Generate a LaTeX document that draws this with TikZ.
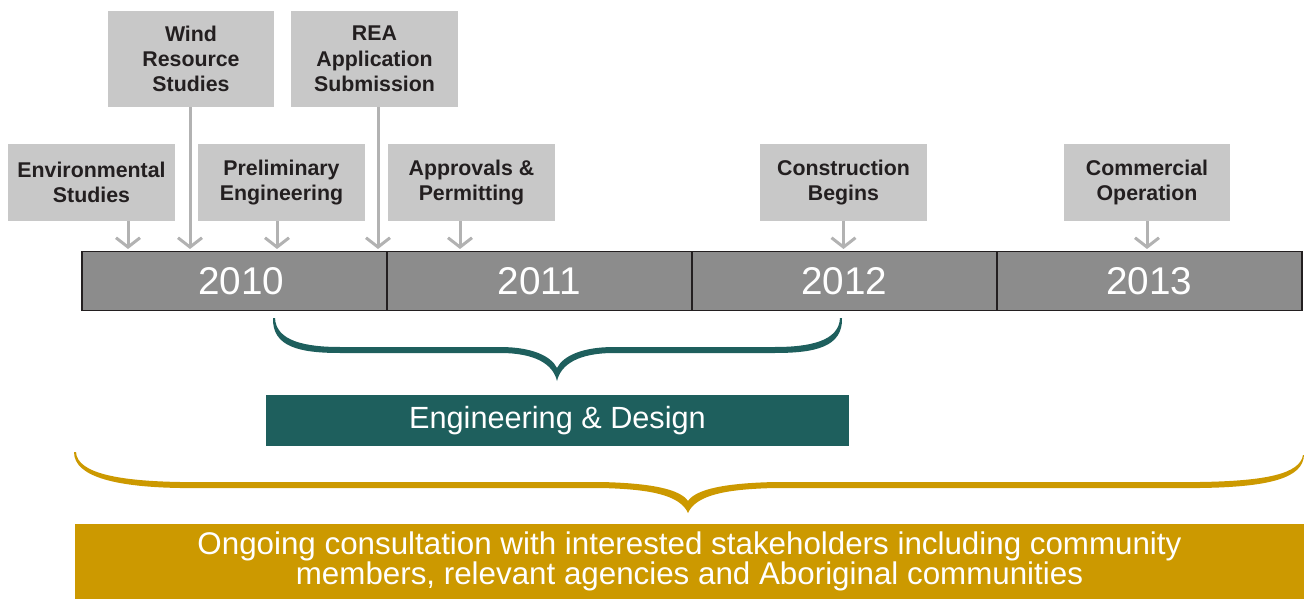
\documentclass[tikz,border=0pt]{standalone}
\usepackage{fontspec}
\setmainfont{Liberation Sans}
\usepackage{xcolor}
\usetikzlibrary{arrows.meta, positioning}
\definecolor{boxgray}{RGB}{200,200,200}
\definecolor{bargray}{RGB}{140,140,140}
\definecolor{arrowgray}{RGB}{178,178,178}
\definecolor{inkdark}{RGB}{35,31,32}
\definecolor{engteal}{RGB}{30,95,93}
\definecolor{consgold}{RGB}{204,153,0}
\tikzstyle{milestone} = [
    rectangle,
    fill=boxgray,
    minimum width=125pt,
    minimum height=58pt,
    inner sep=0pt,
    align=center,
    text=inkdark,
    font=\fontsize{16}{19}\selectfont\bfseries
]
\tikzstyle{tallstone} = [
    milestone,
    minimum height=72pt
]
\tikzstyle{year} = [
    rectangle,
    fill=bargray,
    draw=inkdark,
    line width=0.9pt,
    outer sep=0pt,
    minimum width=228.75pt,
    minimum height=44pt,
    text=white,
    font=\fontsize{29}{34}\selectfont
]
\tikzstyle{banner} = [
    rectangle,
    inner sep=0pt,
    align=center,
    text=white
]
\tikzstyle{feed} = [
    draw=arrowgray,
    line width=2.25pt,
    -{Straight Barb[length=7pt,width=18pt]},
    shorten >=2pt
]

\begin{document}
\begin{tikzpicture}[
    x=0.75pt,
    y=-0.75pt
]
\useasboundingbox (0,0) rectangle (1304,599);

\node (y2010) [year] at (234.5,281) {\hspace{10pt}2010};

\node (y2011) [year, right=0pt of y2010] {2011};

\node (y2012) [year, right=0pt of y2011] {2012};

\node (y2013) [year, right=0pt of y2012] {2013};

\node (env) [milestone] at (91.5,182.5)
{Environmental\\Studies};

\node (prelim) [milestone] at (281.5,182.5)
{Preliminary\\Engineering};

\node (approv) [milestone] at (471.5,182.5)
{Approvals \&\\Permitting};

\node (constr) [milestone] at (843.5,182.5)
{Construction\\Begins};

\node (commer) [milestone] at (1147,182.5)
{Commercial\\Operation};

\node (wind) [tallstone] at (191,59)
{Wind\\Resource\\Studies};

\node (rea) [tallstone] at (374.5,59)
{REA\\Application\\Submission};

\node (engbox) [banner, fill=engteal, minimum width=437pt, minimum height=38pt,
    font=\fontsize{23}{27}\selectfont] at (557.5,420.5)
{Engineering \& Design};

\node (consult) [banner, fill=consgold, minimum width=922pt, minimum height=56pt,
    font=\fontsize{23.5}{22}\selectfont] at (689.5,561.5)
{Ongoing consultation with interested stakeholders including community\\
members, relevant agencies and Aboriginal communities};

\draw [feed] (128,0 |- env.south) -- (128,0 |- y2010.north);

\draw [feed] (190,0 |- wind.south) -- (190,0 |- y2010.north);

\draw [feed] (277,0 |- prelim.south) -- (277,0 |- y2010.north);

\draw [feed] (378,0 |- rea.south) -- (378,0 |- y2010.north);

\draw [feed] (460,0 |- approv.south) -- (460,0 |- y2011.north);

\draw [feed] (constr.south) -- (constr.south |- y2012.north);

\draw [feed] (commer.south) -- (commer.south |- y2013.north);

% engineering brace
\fill [engteal]
(273,318) .. controls (272,347) and (300,353) .. (340,353)
-- (500,353) .. controls (535,353) and (553,364) .. (557,381)
.. controls (561,364) and (579,353) .. (614,353)
-- (775,353) .. controls (815,353) and (843,347) .. (842,318)
-- (840,318) .. controls (839,341) and (810,347) .. (775,347)
-- (614,347) .. controls (582,347) and (563,356) .. (557,368)
.. controls (551,356) and (532,347) .. (500,347)
-- (340,347) .. controls (305,347) and (276,341) .. (275,318)
-- cycle;

% consultation brace
\fill [consgold]
(74,452) .. controls (74,478) and (120,487) .. (180,488)
-- (600,488) .. controls (650,489) and (680,495) .. (688,513)
.. controls (696,495) and (726,489) .. (776,488)
-- (1200,488) .. controls (1270,487) and (1303,478) .. (1304,455)
-- (1303,455) .. controls (1300,474) and (1265,481) .. (1200,482)
-- (776,482) .. controls (726,483) and (696,489) .. (688,501)
.. controls (680,489) and (650,483) .. (600,482)
-- (180,482) .. controls (122,481) and (77,474) .. (76,452)
-- cycle;

\end{tikzpicture}
\end{document}
